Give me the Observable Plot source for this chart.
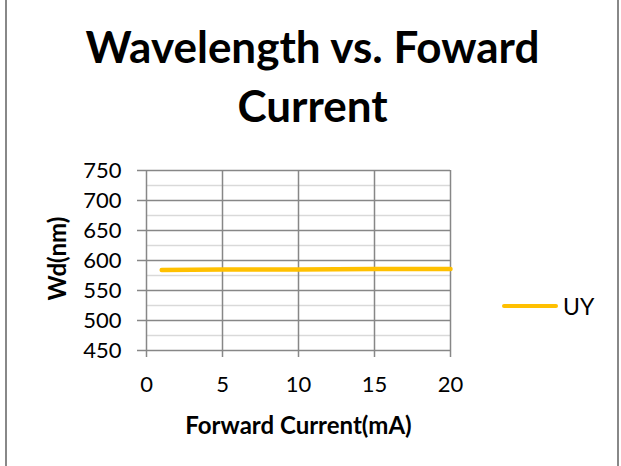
<!DOCTYPE html>
<html><head><meta charset="utf-8">
<script src="https://cdn.jsdelivr.net/npm/d3@7"></script>
<script src="https://cdn.jsdelivr.net/npm/@observablehq/plot@0.6"></script>
<style>
html,body{margin:0;padding:0;background:#fff;}
#wrap{position:relative;width:621px;height:466px;overflow:hidden;font-family:Lato,sans-serif;background:#fff;}
#bl{position:absolute;left:5px;top:0;width:2px;height:466px;background:#888;}
#br{position:absolute;left:617px;top:0;width:2px;height:466px;background:#888;}
#title{position:absolute;left:2px;top:16.5px;width:621px;text-align:center;font-weight:bold;font-size:44px;line-height:59px;color:#000;}
#chart{position:absolute;left:0;top:150px;}
#sw{position:absolute;left:502px;top:303.5px;width:56px;height:4.5px;background:#FFC000;border-radius:2px;}
#lt{position:absolute;left:563px;top:295px;font-size:23px;line-height:22px;color:#000;}
</style></head>
<body>
<div id="wrap">
  <div id="bl"></div><div id="br"></div>
  <div id="title">Wavelength vs. Foward<br>Current</div>
  <div id="chart"></div>
  <div id="sw"></div><div id="lt">UY</div>
</div>
<script>
const seriesName = "UY";
const currents = [1, 5, 10, 15, 20];
const wavelengths = [584, 585, 585, 586, 586];
const xTicks = [0, 5, 10, 15, 20];
const yMajor = [450, 500, 550, 600, 650, 700, 750];
const yMinor = [475, 525, 575, 625, 675, 725];
const xLabel = "Forward Current(mA)";
const yLabel = "Wd(nm)";

const data = currents.map((c, i) => ({c, w: wavelengths[i]}));
const grid = "#878787";
const plot = Plot.plot({
  width: 621, height: 316,
  marginLeft: 146, marginRight: 171, marginTop: 20, marginBottom: 116,
  style: {fontFamily: "Lato, sans-serif", fontSize: "22px", color: "#000", background: "transparent", overflow: "visible"},
  x: {domain: [0, 20]},
  y: {domain: [450, 750]},
  marks: [
    Plot.ruleY(yMinor, {stroke: "#d9d9d9", strokeWidth: 1.5}),
    Plot.ruleY(yMajor, {stroke: grid, strokeWidth: 1.5}),
    Plot.ruleX(xTicks, {stroke: grid, strokeWidth: 1.5}),
    Plot.axisY({ticks: yMajor, tickSize: 9, tickPadding: 16, label: null, stroke: grid, strokeWidth: 1.5, fill: "#000", fontSize: 22}),
    Plot.axisX({ticks: xTicks, tickSize: 7, tickPadding: 19, label: null, stroke: grid, strokeWidth: 1.5, fill: "#000", fontSize: 22}),
    Plot.line(data, {x: "c", y: "w", stroke: "#FFC000", strokeWidth: 4.5, strokeLinecap: "round"}),
    Plot.text([yLabel], {frameAnchor: "left", textAnchor: "middle", rotate: -90, dx: -88, dy: -2, fontWeight: "bold", fontSize: 24, fill: "#000"}),
    Plot.text([xLabel], {frameAnchor: "bottom", textAnchor: "middle", dy: 83, fontWeight: "bold", fontSize: 24, fill: "#000"})
  ]
});
document.getElementById("chart").appendChild(plot);
document.getElementById("lt").textContent = seriesName;
</script>
</body></html>
